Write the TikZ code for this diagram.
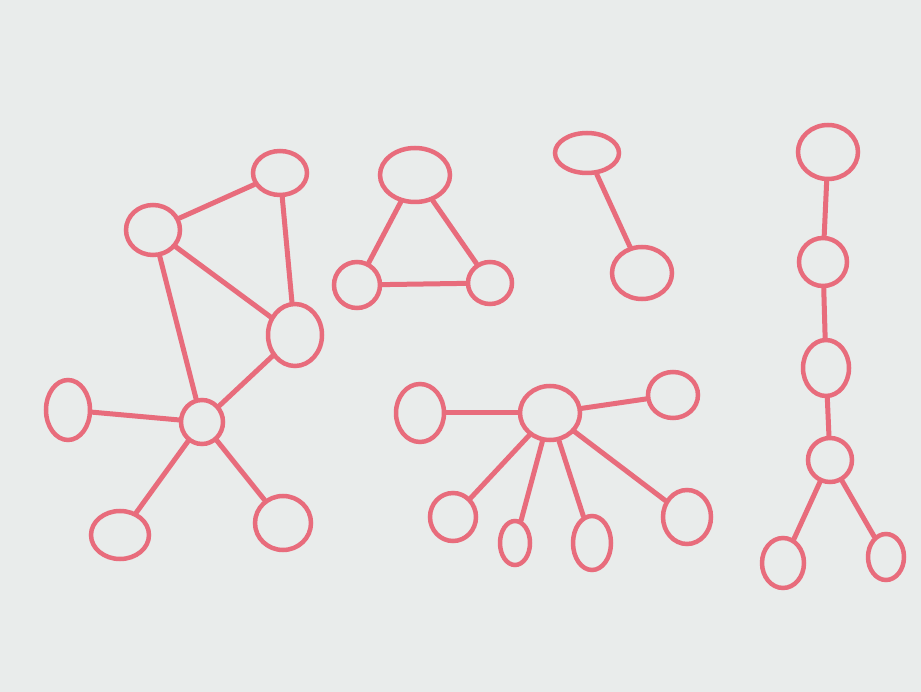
\documentclass[tikz,border=0pt]{standalone}
\usetikzlibrary{shapes.geometric}
\definecolor{board}{RGB}{233,236,235}
\definecolor{marker}{RGB}{232,108,124}
\tikzset{
  vtx/.style={ellipse, draw=marker, line width=4.5pt, inner sep=0pt, minimum width=#1},
  edg/.style={draw=marker, line width=5pt, line cap=round},
}
\newcommand{\vx}[5]{\node[vtx=#4pt, minimum height=#5pt] (#1) at (#2,#3) {};}
\begin{document}
\begin{tikzpicture}[x=1pt,y=-1pt]
\fill[board] (0,0) rectangle (921,692);
\useasboundingbox (0,0) rectangle (921,692);
% graph 1
\vx{A}{153}{230}{54}{50}
\vx{B}{280}{173}{54}{44}
\vx{C}{295}{335}{54}{62}
\vx{D}{202}{422}{42}{44}
\vx{E}{68}{410}{44}{60}
\vx{F}{120}{535}{58}{48}
\vx{G}{283}{523}{56}{54}
\draw[edg] (A) -- (B);
\draw[edg] (B) -- (C);
\draw[edg] (A) -- (C);
\draw[edg] (A) -- (D);
\draw[edg] (C) -- (D);
\draw[edg] (D) -- (E);
\draw[edg] (D) -- (F);
\draw[edg] (D) -- (G);
% triangle
\vx{T1}{415}{175}{70}{54}
\vx{T2}{357}{285}{46}{46}
\vx{T3}{490}{283}{44}{42}
\draw[edg] (T1) -- (T2);
\draw[edg] (T1) -- (T3);
\draw[edg] (T2) -- (T3);
% pair
\vx{P1}{587}{153}{64}{40}
\vx{P2}{642}{273}{60}{52}
\draw[edg] (P1) -- (P2);
% star
\vx{H}{550}{413}{60}{54}
\vx{S1}{420}{413}{48}{58}
\vx{S2}{673}{395}{50}{46}
\vx{S3}{453}{517}{46}{48}
\vx{S4}{515}{543}{30}{44}
\vx{S5}{592}{543}{38}{54}
\vx{S6}{687}{517}{48}{54}
\foreach \s in {S1,S2,S3,S4,S5,S6} \draw[edg] (H) -- (\s);
% chain
\vx{C1}{828}{152}{60}{54}
\vx{C2}{823}{262}{48}{48}
\vx{C3}{826}{368}{46}{56}
\vx{C4}{830}{460}{44}{44}
\vx{C5}{783}{563}{42}{50}
\vx{C6}{886}{557}{36}{46}
\draw[edg] (C1) -- (C2);
\draw[edg] (C2) -- (C3);
\draw[edg] (C3) -- (C4);
\draw[edg] (C4) -- (C5);
\draw[edg] (C4) -- (C6);
\end{tikzpicture}
\end{document}
